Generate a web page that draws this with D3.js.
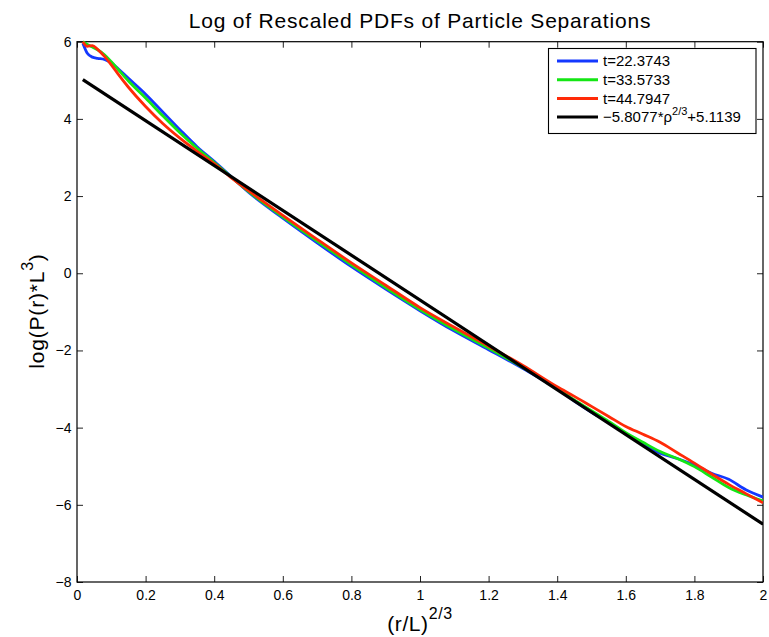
<!DOCTYPE html>
<html><head><meta charset="utf-8">
<script src="https://cdn.jsdelivr.net/npm/d3@7"></script>
<style>body{margin:0;background:#fff}svg{display:block}</style>
</head><body>
<svg id="c" width="769" height="637"></svg>
<script>
// ---- data ----
const xGrid  = [0.017,0.03,0.045,0.06,0.08,0.1,0.12,0.15,0.2,0.25,0.3,0.35,0.4,0.45,0.5,0.6,0.7,0.8,0.9,1.0,1.1,1.2,1.3,1.4,1.45,1.5,1.55,1.6,1.65,1.7,1.75,1.8,1.85,1.9,1.95,2.0];
const blueY  = [5.96,5.70,5.60,5.57,5.54,5.45,5.30,5.05,4.64,4.18,3.72,3.28,2.90,2.50,2.10,1.43,0.79,0.17,-0.41,-0.97,-1.50,-1.98,-2.47,-3.00,-3.31,-3.60,-3.87,-4.16,-4.42,-4.66,-4.80,-4.97,-5.18,-5.34,-5.61,-5.80];
const greenY = [6.00,5.93,5.86,5.79,5.66,5.48,5.28,4.98,4.54,4.08,3.64,3.24,2.87,2.49,2.12,1.46,0.83,0.22,-0.37,-0.94,-1.46,-1.94,-2.44,-2.98,-3.28,-3.56,-3.84,-4.13,-4.38,-4.62,-4.80,-5.01,-5.28,-5.55,-5.74,-5.90];
const redY   = [6.00,5.88,5.90,5.80,5.62,5.40,5.16,4.82,4.32,3.88,3.50,3.16,2.84,2.47,2.14,1.50,0.88,0.27,-0.31,-0.89,-1.40,-1.89,-2.39,-2.94,-3.19,-3.45,-3.71,-3.97,-4.17,-4.38,-4.65,-4.92,-5.20,-5.47,-5.71,-5.95];
const fitX   = [0.017, 2.0];
const fitY   = [5.015, -6.502];

const seriesNames  = ["t=22.3743", "t=33.5733", "t=44.7947"];
const seriesColors = ["#1438ff", "#14e614", "#ff2a08"];
const xTicks = [0,0.2,0.4,0.6,0.8,1,1.2,1.4,1.6,1.8,2];
const yTicks = [-8,-6,-4,-2,0,2,4,6];
const titleText = "Log of Rescaled PDFs of Particle Separations";

// ---- layout ----
const L = 77, R = 763, T = 41.7, B = 582;
const svg = d3.select("#c");
const font = "'Liberation Sans', Arial, Helvetica, sans-serif";
const x = d3.scaleLinear().domain([0,2]).range([L,R]);
const y = d3.scaleLinear().domain([-8,6]).range([B,T]);

svg.append("rect").attr("width",769).attr("height",637).attr("fill","#fff");

// axes (MATLAB style: ticks inside, box on)
const fmt = d3.format("~g");
const gB = svg.append("g").attr("transform",`translate(0,${B})`)
  .call(d3.axisBottom(x).tickValues(xTicks).tickFormat(fmt).tickSizeInner(-6).tickSizeOuter(0).tickPadding(8));
const gT = svg.append("g").attr("transform",`translate(0,${T})`)
  .call(d3.axisTop(x).tickValues(xTicks).tickFormat("").tickSizeInner(-6).tickSizeOuter(0));
const gL = svg.append("g").attr("transform",`translate(${L},0)`)
  .call(d3.axisLeft(y).tickValues(yTicks).tickFormat(fmt).tickSizeInner(-6).tickSizeOuter(0).tickPadding(5.5));
const gR = svg.append("g").attr("transform",`translate(${R},0)`)
  .call(d3.axisRight(y).tickValues(yTicks).tickFormat("").tickSizeInner(-6).tickSizeOuter(0));
[gB,gT,gL,gR].forEach(g=>{
  g.select(".domain").remove();
  g.selectAll("line").attr("stroke","#222").attr("stroke-width",1);
  g.selectAll("text").attr("font-family",font).attr("font-size",14).attr("fill","#000");
});
svg.append("rect").attr("x",L).attr("y",T).attr("width",R-L).attr("height",B-T)
  .attr("fill","none").attr("stroke","#000").attr("stroke-width",1.2);

// lines
svg.append("clipPath").attr("id","pa").append("rect")
  .attr("x",L).attr("y",T-2).attr("width",R-L).attr("height",B-T+2);
const line = d3.line().x(d=>x(d[0])).y(d=>y(d[1])).curve(d3.curveMonotoneX);
const plotG = svg.append("g").attr("clip-path","url(#pa)");
[blueY, greenY, redY].forEach((ys,i)=>{
  plotG.append("path").datum(xGrid.map((v,j)=>[v,ys[j]]))
    .attr("d",line).attr("fill","none").attr("stroke",seriesColors[i])
    .attr("stroke-width",2.8).attr("stroke-linejoin","round");
});
plotG.append("path").datum(fitX.map((v,j)=>[v,fitY[j]]))
  .attr("d",d3.line().x(d=>x(d[0])).y(d=>y(d[1])))
  .attr("fill","none").attr("stroke","#000").attr("stroke-width",3.2);

// title and axis labels
svg.append("text").attr("x",(L+R)/2).attr("y",27.5).attr("text-anchor","middle")
  .attr("font-family",font).attr("font-size",21).attr("letter-spacing",0.8).text(titleText);

const xl = svg.append("text").attr("x",(L+R)/2).attr("y",631).attr("text-anchor","middle")
  .attr("font-family",font).attr("font-size",21).attr("letter-spacing",0.6);
xl.append("tspan").text("(r/L)");
xl.append("tspan").attr("dy",-12).attr("font-size",16).text("2/3");

const yl = svg.append("text").attr("transform",`translate(44,311) rotate(-90)`).attr("text-anchor","middle")
  .attr("font-family",font).attr("font-size",21).attr("letter-spacing",0.8);
yl.append("tspan").text("log(P(r)*L");
yl.append("tspan").attr("dy",-11).attr("font-size",16).text("3");
yl.append("tspan").attr("dy",11).text(")");

// legend
const lg = svg.append("g");
lg.append("rect").attr("x",548.5).attr("y",48.5).attr("width",207.5).attr("height",85)
  .attr("fill","#fff").attr("stroke","#000").attr("stroke-width",1.1);
const rowY = [61, 79.7, 98.4, 117.1];
const legColors = seriesColors.concat(["#000"]);
rowY.forEach((ry,i)=>{
  lg.append("line").attr("x1",557).attr("x2",598).attr("y1",ry).attr("y2",ry)
    .attr("stroke",legColors[i]).attr("stroke-width",3);
  const t = lg.append("text").attr("x",603).attr("y",ry+5.2)
    .attr("font-family",font).attr("font-size",15);
  if(i<3){ t.text(seriesNames[i]); }
  else {
    t.append("tspan").text("\u22125.8077*\u03C1");
    t.append("tspan").attr("dy",-7).attr("font-size",11).text("2/3");
    t.append("tspan").attr("dy",7).text("+5.1139");
  }
});
</script>
</body></html>
